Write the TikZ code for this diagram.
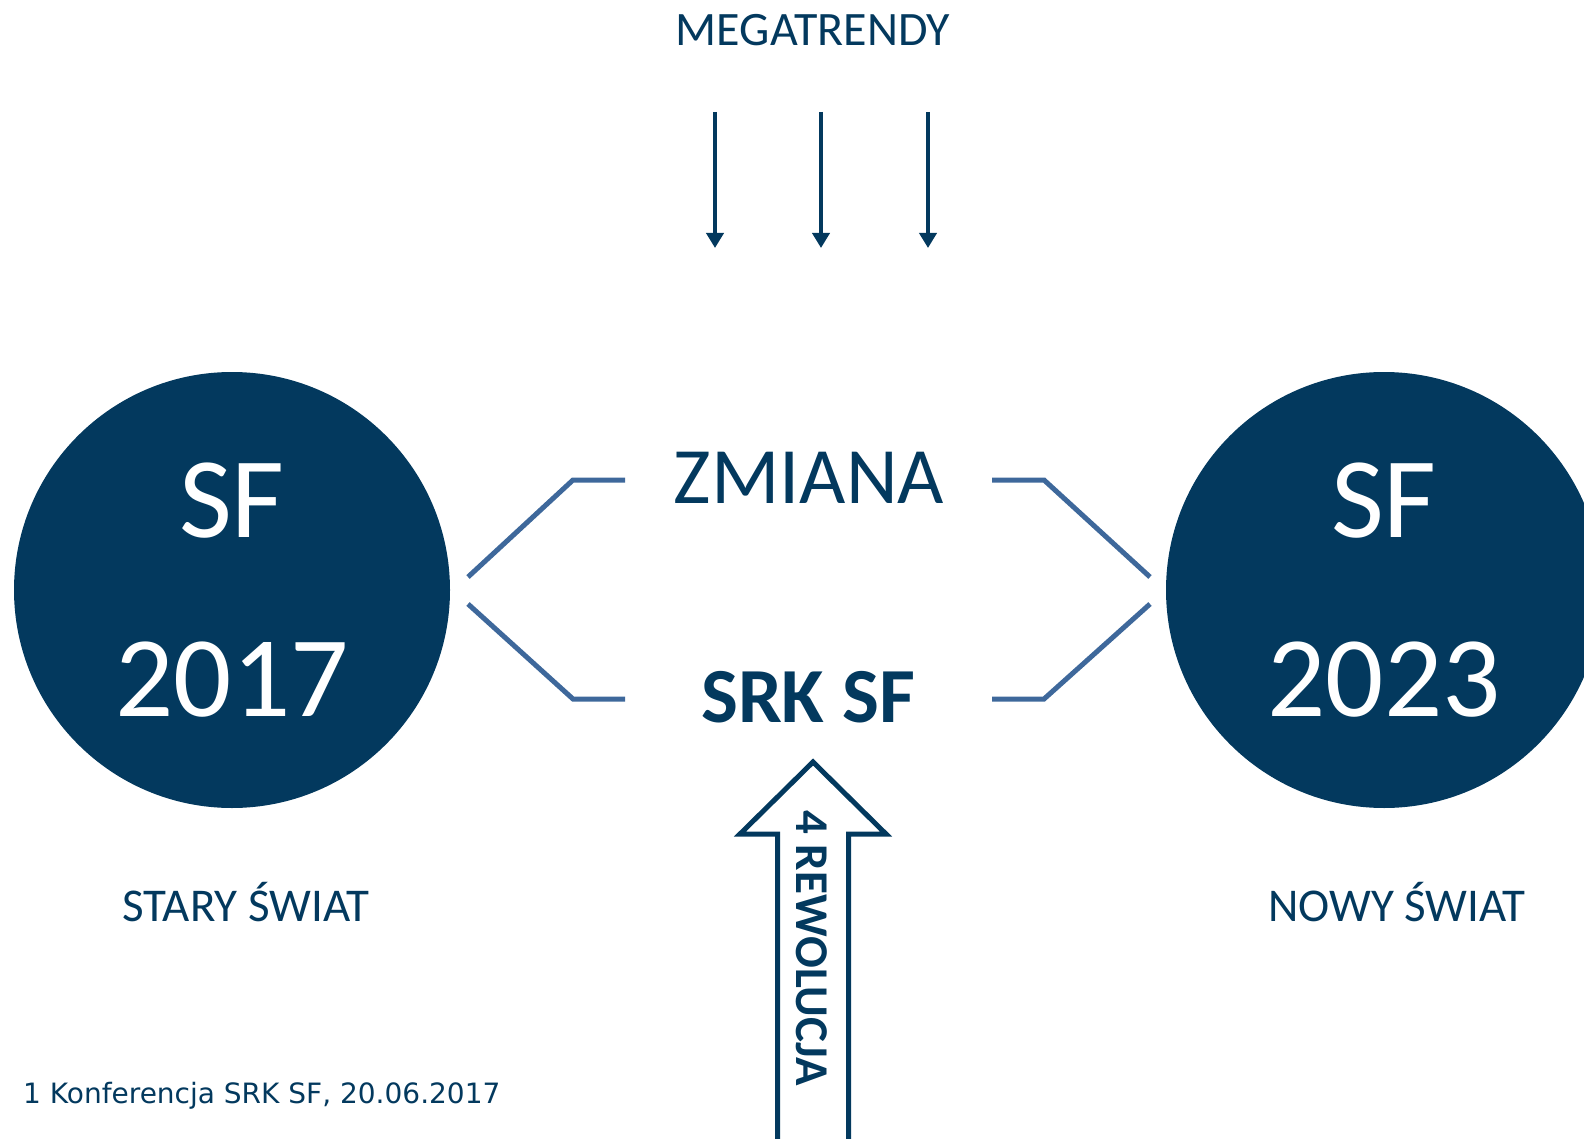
\documentclass[tikz,border=0pt]{standalone}
\usepackage{fontspec}
\setmainfont{Carlito}
\newfontfamily\notefont{DejaVu Sans}
\usetikzlibrary{arrows.meta, calc}

\definecolor{navy}{RGB}{3,57,94}
\definecolor{linkblue}{RGB}{62,104,155}

\begin{document}
\begin{tikzpicture}[
  x=1pt, y=-1pt,
  year/.style={circle, fill=navy, text=white, minimum size=436pt, inner sep=0pt,
               align=center, font=\fontsize{115}{179}\selectfont},
  txt/.style={text=navy, inner sep=0pt, anchor=base},
  trend/.style={-{Triangle[length=15pt,width=17pt]}, line width=4.5pt, draw=navy},
  link/.style={line width=5pt, draw=linkblue},
  bigarrow/.style={draw=navy, fill=white, line width=5pt}
]
\path[use as bounding box] (0,0) rectangle (1584,1139);
\clip (0,0) rectangle (1584,1139);

\node[year] (old) at (232,590) {SF\\2017};
\node[year] (new) at (1384,590) {SF\\2023};

\node[txt, font=\fontsize{48}{58}\selectfont] (mega) at (813,46) {MEGATRENDY};
\node[txt, font=\fontsize{80}{94}\selectfont] (zm) at (809,503) {ZMIANA};
\node[txt, font=\bfseries\fontsize{78}{90}\selectfont] (srk) at (808,722) {SRK SF};
\node[txt, font=\fontsize{47}{56}\selectfont] (stary) at (246,921) {STARY ŚWIAT};
\node[txt, font=\fontsize{47}{56}\selectfont] (nowy) at (1397,921) {NOWY ŚWIAT};
\node[txt, anchor=base west, font=\notefont\fontsize{28}{34}\selectfont] (conf)
  at (23,1103) {1 Konferencja SRK SF, 20.06.2017};

% megatrendy
\foreach \x [count=\i] in {715,821,928} {
  \coordinate (t\i) at (\x,112);
  \coordinate (h\i) at (\x,248);
  \draw[trend] (t\i) -- (h\i);
}

% stary swiat -> zmiana / srk sf
\coordinate (la) at (468,577);
\coordinate (lb) at (573,480);
\coordinate (lc) at (625,480);
\coordinate (ld) at (468,604);
\coordinate (le) at (573,699);
\coordinate (lf) at (625,699);
\draw[link] (la) -- (lb) -- (lc);
\draw[link] (ld) -- (le) -- (lf);

% zmiana / srk sf -> nowy swiat
\coordinate (ra) at (992,480);
\coordinate (rb) at (1044,480);
\coordinate (rc) at (1150,577);
\coordinate (rd) at (992,699);
\coordinate (re) at (1044,699);
\coordinate (rf) at (1150,604);
\draw[link] (ra) -- (rb) -- (rc);
\draw[link] (rd) -- (re) -- (rf);

% 4 rewolucja
\draw[bigarrow] (813,762) -- (886,834) -- (848.5,834) -- (848.5,1150)
  -- (777.5,1150) -- (777.5,834) -- (740,834) -- cycle;
\node[txt, anchor=center, rotate=-90, font=\bfseries\fontsize{47}{55}\selectfont] (rev)
  at (812,948) {4 REWOLUCJA};

\end{tikzpicture}
\end{document}
